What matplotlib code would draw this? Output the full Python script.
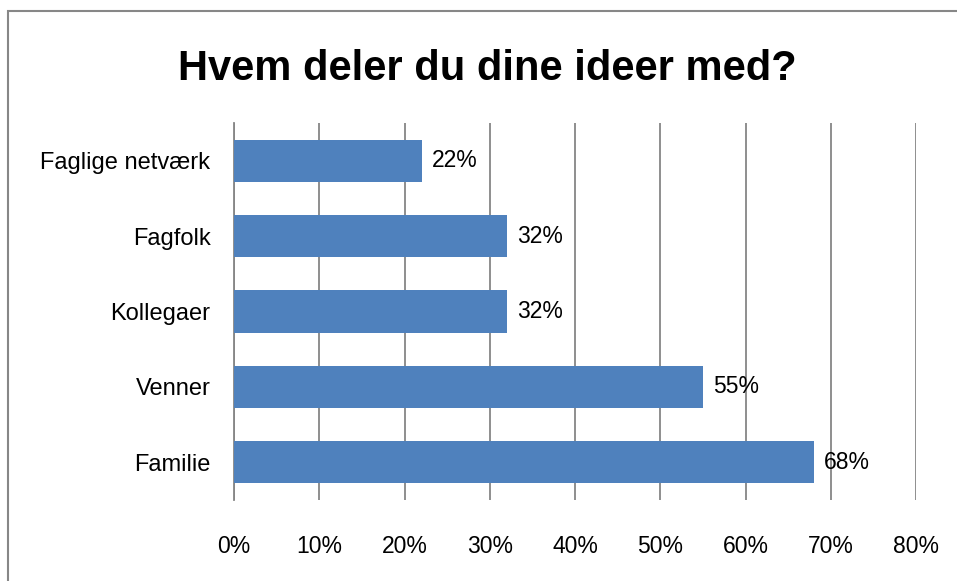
import matplotlib.pyplot as plt
from matplotlib.patches import Rectangle

# --- data ---
categories = ['Familie', 'Venner', 'Kollegaer', 'Fagfolk', 'Faglige netværk']
values = [68, 55, 32, 32, 22]
xticks = [0, 10, 20, 30, 40, 50, 60, 70, 80]
xtick_labels = [f'{t}%' for t in xticks]
title = 'Hvem deler du dine ideer med?'

bar_color = '#4F81BD'
grid_color = '#868686'

plt.rcParams['font.family'] = ['Liberation Sans', 'DejaVu Sans']

fig = plt.figure(figsize=(9.57, 5.81), dpi=100)
ax = fig.add_axes([234 / 957, 1 - 500 / 581, (916 - 234) / 957, (500 - 123) / 581])

ypos = list(range(len(categories)))
ax.barh(ypos, values, height=0.56, color=bar_color, zorder=3)

for y, v in zip(ypos, values):
    ax.annotate(f'{v}%', (v, y), xytext=(10, 0), textcoords='offset pixels',
                va='center', ha='left', fontsize=16.5, zorder=4)

ax.set_xlim(0, 80)
ax.set_ylim(-0.5, len(categories) - 0.5)
ax.set_xticks(xticks)
ax.set_xticklabels(xtick_labels, fontsize=16.5)
ax.set_yticks(ypos)
ax.set_yticklabels(categories, fontsize=17)
ax.tick_params(axis='x', length=0, pad=25)
ax.tick_params(axis='y', length=0, pad=17)

ax.grid(axis='x', color=grid_color, linewidth=1.3, zorder=1)
for s in ax.spines.values():
    s.set_visible(False)
ax.spines['left'].set_visible(True)
ax.spines['left'].set_color(grid_color)
ax.spines['left'].set_linewidth(1.3)

fig.text(487 / 957, 1 - 69 / 581, title, ha='center', va='center',
         fontsize=30, fontweight='bold')

# outer chart border (right and bottom edges fall outside the image)
fig.patches.append(Rectangle((8 / 957, -0.5), 2, 1.5 - 11 / 581, transform=fig.transFigure,
                             fill=False, edgecolor='#878787', linewidth=1.5))

fig.savefig('out.png', dpi=100)
